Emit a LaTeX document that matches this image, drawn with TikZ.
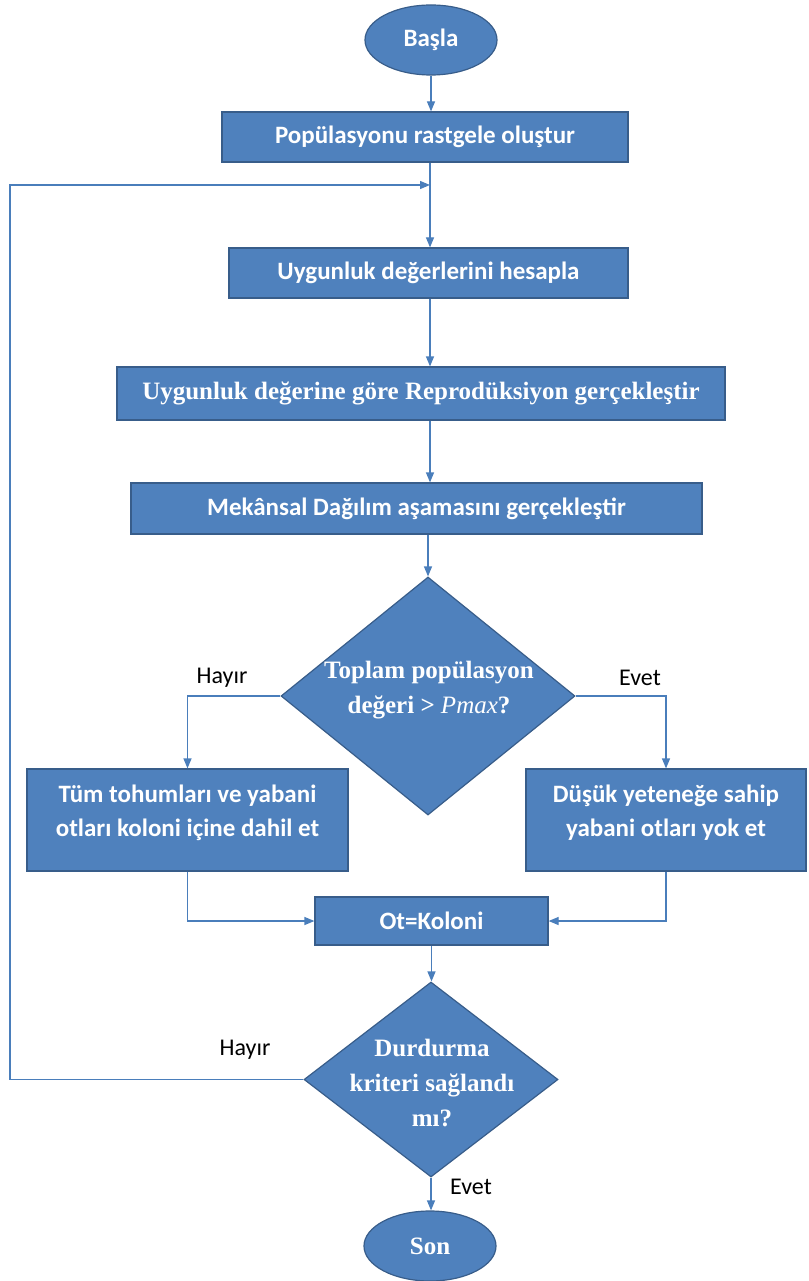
\documentclass[tikz,border=0pt]{standalone}
\usepackage{fontspec}
\setmainfont{Carlito}
\newfontfamily\timesfont{Liberation Serif}
\usetikzlibrary{positioning,arrows.meta,shapes.geometric}
\definecolor{boxblue}{HTML}{4F81BD}
\definecolor{boxedge}{HTML}{385D8A}
\definecolor{linkblue}{HTML}{4A7EBB}

\begin{document}
\begin{tikzpicture}[x=1pt,y=-1pt,
  proc/.style={draw=boxedge, fill=boxblue, line width=1.2pt, text=white, align=center, inner sep=0pt, font=\fontsize{25}{34}\selectfont\bfseries},
  serif/.style={font=\fontsize{25}{35}\selectfont\timesfont\bfseries},
  term/.style={proc, ellipse, minimum width=132pt, minimum height=70pt},
  dec/.style={proc, diamond, minimum width=294pt, minimum height=238pt},
  dectext/.style={serif, text=white, align=center, inner sep=0pt},
  link/.style={draw=linkblue, line width=1.2pt, -{Triangle[length=10pt,width=8pt]}},
  lbl/.style={font=\fontsize{24}{28}\selectfont}]
  \useasboundingbox (0,0) rectangle (808,1281);
  % ana akis
  \node[term] (start) at (431,40) {Başla};
  \node[proc, minimum width=406pt, minimum height=50pt] (init) at (425,137) {Popülasyonu rastgele oluştur};
  \coordinate (spine) at (430,185);
  \node[proc, minimum width=399pt, minimum height=50pt] (fit) at (428.5,273) {Uygunluk değerlerini hesapla};
  \node[proc, serif, minimum width=608pt, minimum height=53pt] (repro) at (421,393.5) {Uygunluk değerine göre Reprodüksiyon gerçekleştir};
  \node[proc, minimum width=571pt, minimum height=51pt] (spread) at (416.5,508.5) {Mekânsal Dağılım aşamasını gerçekleştir};
  \node[dec] (pcheck) at (428,696) {};
  \node[dectext] (pchecktxt) at (429,690) {Toplam popülasyon\\değeri > {\mdseries\itshape Pmax}?};
  % dallar
  \node[proc, minimum width=321pt, minimum height=102pt, text depth=19pt] (merge) at (187.5,820) {Tüm tohumları ve yabani\\otları koloni içine dahil et};
  \node[proc, minimum width=280pt, minimum height=102pt, text depth=19pt] (kill) at (666,820) {Düşük yeteneğe sahip\\yabani otları yok et};
  \node[proc, minimum width=233pt, minimum height=48pt] (otk) at (431.5,921) {Ot=Koloni};
  \node[dec, minimum width=254pt, minimum height=195pt] (stop) at (431,1079.5) {};
  \node[dectext] (stoptxt) at (432,1083) {Durdurma\\kriteri sağlandı\\mı?};
  \node[term, serif] (finish) at (430,1246) {Son};
  \coordinate (corner) at (10,185);
  % etiketler
  \node[lbl] (no1) at (222,678) {Hayır};
  \node[lbl] (yes1) at (640,678) {Evet};
  \node[lbl] (no2) at (245,1050) {Hayır};
  \node[lbl] (yes2) at (471,1187) {Evet};
  % baglantilar
  \draw[link] (start.south) -- (start.south |- init.north);
  \draw[link] (init.south -| spine) -- (fit.north -| spine);
  \draw[link] (fit.south -| spine) -- (repro.north -| spine);
  \draw[link] (repro.south -| spine) -- (spread.north -| spine);
  \draw[link] (pcheck.north |- spread.south) -- (pcheck.north);
  \draw[link] (pcheck.west) -| (merge.north);
  \draw[link] (pcheck.east) -| (kill.north);
  \draw[link] (merge.south) |- (otk.west);
  \draw[link] (kill.south) |- (otk.east);
  \draw[link] (otk.south) -- (otk.south |- stop.north);
  \draw[link] (stop.south) -- (stop.south |- finish.north);
  \draw[link] (stop.west) -| (corner) -- (spine);
\end{tikzpicture}
\end{document}
